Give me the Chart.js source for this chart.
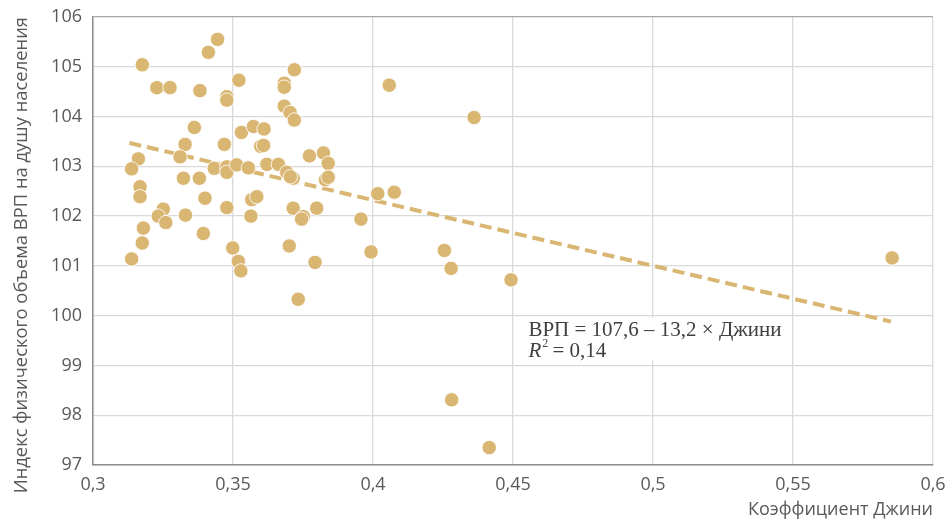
<!DOCTYPE html>
<html>
<head>
<meta charset="utf-8">
<script src="https://cdn.jsdelivr.net/npm/chart.js@4.4.1/dist/chart.umd.min.js"></script>
<style>
    html, body { margin: 0; padding: 0; background: #fff; }
</style>
</head>
<body>
<canvas id="myChart" width="952" height="525"></canvas>
<script>
// Datos: coeficiente de Gini (x) e indice del VRP per capita (y)
const giniX = [
    0.3445, 0.3412, 0.3176, 0.3228, 0.3275, 0.3382, 0.3478, 0.3478, 0.3521, 0.3683,
    0.3683, 0.3719, 0.3683, 0.3704, 0.3719, 0.3362, 0.3329, 0.3469, 0.3530, 0.3573,
    0.3611, 0.3599, 0.3609, 0.3162, 0.3138, 0.3311, 0.3433, 0.3478, 0.3478, 0.3513,
    0.3555, 0.3621, 0.3662, 0.3692, 0.3715, 0.3705, 0.3168, 0.3168, 0.3323, 0.3380,
    0.3400, 0.3478, 0.3567, 0.3585, 0.3564, 0.3251, 0.3233, 0.3260, 0.3330, 0.3180,
    0.3176, 0.3138, 0.3394, 0.3499, 0.3519, 0.3528, 0.3715, 0.3751, 0.3745, 0.3799,
    0.3701, 0.3793, 0.3733, 0.3773, 0.3823, 0.3840, 0.3830, 0.3840, 0.4058, 0.4361,
    0.4017, 0.4076, 0.3957, 0.3993, 0.4255, 0.4279, 0.4493, 0.4281, 0.4415, 0.5854
];
const grpY = [
    105.55, 105.29, 105.04, 104.58, 104.58, 104.52, 104.40, 104.33, 104.73, 104.67,
    104.59, 104.94, 104.21, 104.08, 103.93, 103.78, 103.44, 103.44, 103.68, 103.80,
    103.75, 103.40, 103.42, 103.15, 102.95, 103.19, 102.96, 102.99, 102.88, 103.03,
    102.97, 103.04, 103.04, 102.88, 102.76, 102.79, 102.59, 102.39, 102.76, 102.76,
    102.36, 102.17, 102.33, 102.39, 102.00, 102.14, 102.00, 101.87, 102.02, 101.76,
    101.46, 101.14, 101.65, 101.36, 101.09, 100.90, 102.16, 101.99, 101.94, 102.16,
    101.40, 101.07, 100.33, 103.21, 103.27, 103.06, 102.73, 102.78, 104.63, 103.98,
    102.45, 102.48, 101.94, 101.28, 101.31, 100.95, 100.72, 98.31, 97.35, 101.16
];

// Linea de tendencia (extremos)
const trendX = [0.313, 0.585];
const trendY = [103.47, 99.88];

// Ejes
const xTicks = [0.3, 0.35, 0.4, 0.45, 0.5, 0.55, 0.6];
const yTicks = [97, 98, 99, 100, 101, 102, 103, 104, 105, 106];

const eqText = 'ВРП = 107,6 – 13,2 × Джини';
const r2Text = ' = 0,14';

const gold = '#d9b672';
const textGray = '#595959';

const points = giniX.map((x, i) => ({ x: x, y: grpY[i] }));
const trend = trendX.map((x, i) => ({ x: x, y: trendY[i] }));

// Quitar el relleno automatico de las etiquetas para fijar el area del grafico
function noLabelPadding(scale) {
    scale.paddingTop = 0;
    scale.paddingBottom = 0;
    scale.paddingLeft = 0;
    scale.paddingRight = 0;
}

// Caja con la ecuacion de regresion
const notePlugin = {
    id: 'note',
    afterDraw(chart) {
        const c = chart.ctx;
        const xs = chart.scales.x;
        const ys = chart.scales.y;
        c.save();
        c.fillStyle = '#fff';
        const left = xs.getPixelForValue(0.451);
        const right = xs.getPixelForValue(0.549);
        const top = ys.getPixelForValue(99.96);
        const bottom = ys.getPixelForValue(99.1);
        c.fillRect(left, top, right - left, bottom - top);

        const tx = xs.getPixelForValue(0.4555);
        c.fillStyle = '#404040';
        c.textBaseline = 'alphabetic';
        c.textAlign = 'left';
        c.font = '21px "Liberation Serif", serif';
        c.fillText(eqText, tx, ys.getPixelForValue(99.585));

        const y2 = ys.getPixelForValue(99.175);
        c.font = 'italic 21px "Liberation Serif", serif';
        c.fillText('R', tx, y2);
        const rw = c.measureText('R').width;
        c.font = '12px "Liberation Serif", serif';
        c.fillText('2', tx + rw + 1, y2 - 10);
        c.font = '21px "Liberation Serif", serif';
        c.fillText(r2Text, tx + rw + 6, y2);
        c.restore();
    }
};

const ctx = document.getElementById('myChart').getContext('2d');
const myChart = new Chart(ctx, {
    type: 'scatter',
    data: {
        datasets: [
            {
                type: 'line',
                data: trend,
                borderColor: gold,
                borderWidth: 4,
                borderDash: [12, 6],
                pointRadius: 0,
                fill: false,
                order: 2
            },
            {
                data: points,
                backgroundColor: gold,
                borderColor: 'rgba(255,255,255,0.85)',
                borderWidth: 1,
                pointRadius: 7.2,
                order: 1
            }
        ]
    },
    options: {
        responsive: false,
        animation: false,
        layout: {
            padding: { top: 17, right: 19, left: 0, bottom: 0 }
        },
        plugins: {
            legend: { display: false },
            tooltip: { enabled: false }
        },
        scales: {
            x: {
                type: 'linear',
                min: 0.3,
                max: 0.6,
                afterBuildTicks: (scale) => {
                    scale.ticks = xTicks.map(v => ({ value: v }));
                },
                afterFit: (scale) => {
                    scale.height = 60;
                    noLabelPadding(scale);
                },
                grid: {
                    color: '#d9d9d9',
                    lineWidth: 1.3,
                    drawTicks: false
                },
                border: { color: '#8c8c8c', width: 1.5 },
                ticks: {
                    padding: 9,
                    color: textGray,
                    font: { family: 'Open Sans', size: 18 },
                    callback: (v) => String(v).replace('.', ',')
                },
                title: {
                    display: true,
                    text: 'Коэффициент Джини',
                    align: 'end',
                    color: textGray,
                    font: { family: 'Open Sans', size: 18 },
                    padding: { top: 0, bottom: 4 }
                }
            },
            y: {
                type: 'linear',
                min: 97,
                max: 106,
                afterBuildTicks: (scale) => {
                    scale.ticks = yTicks.map(v => ({ value: v }));
                },
                afterFit: (scale) => {
                    scale.width = 93;
                    noLabelPadding(scale);
                },
                grid: {
                    color: (c) => c.tick && c.tick.value === 106 ? '#a6a6a6' : '#d9d9d9',
                    lineWidth: 1.3,
                    drawTicks: false
                },
                border: { color: '#8c8c8c', width: 1.5 },
                ticks: {
                    padding: 11,
                    color: textGray,
                    font: { family: 'Open Sans', size: 18 }
                },
                title: {
                    display: true,
                    text: 'Индекс физического объема ВРП на душу населения',
                    align: 'end',
                    color: textGray,
                    font: { family: 'Open Sans', size: 18.4 },
                    padding: { top: 11, bottom: 0 }
                }
            }
        }
    },
    plugins: [notePlugin]
});
</script>
</body>
</html>
